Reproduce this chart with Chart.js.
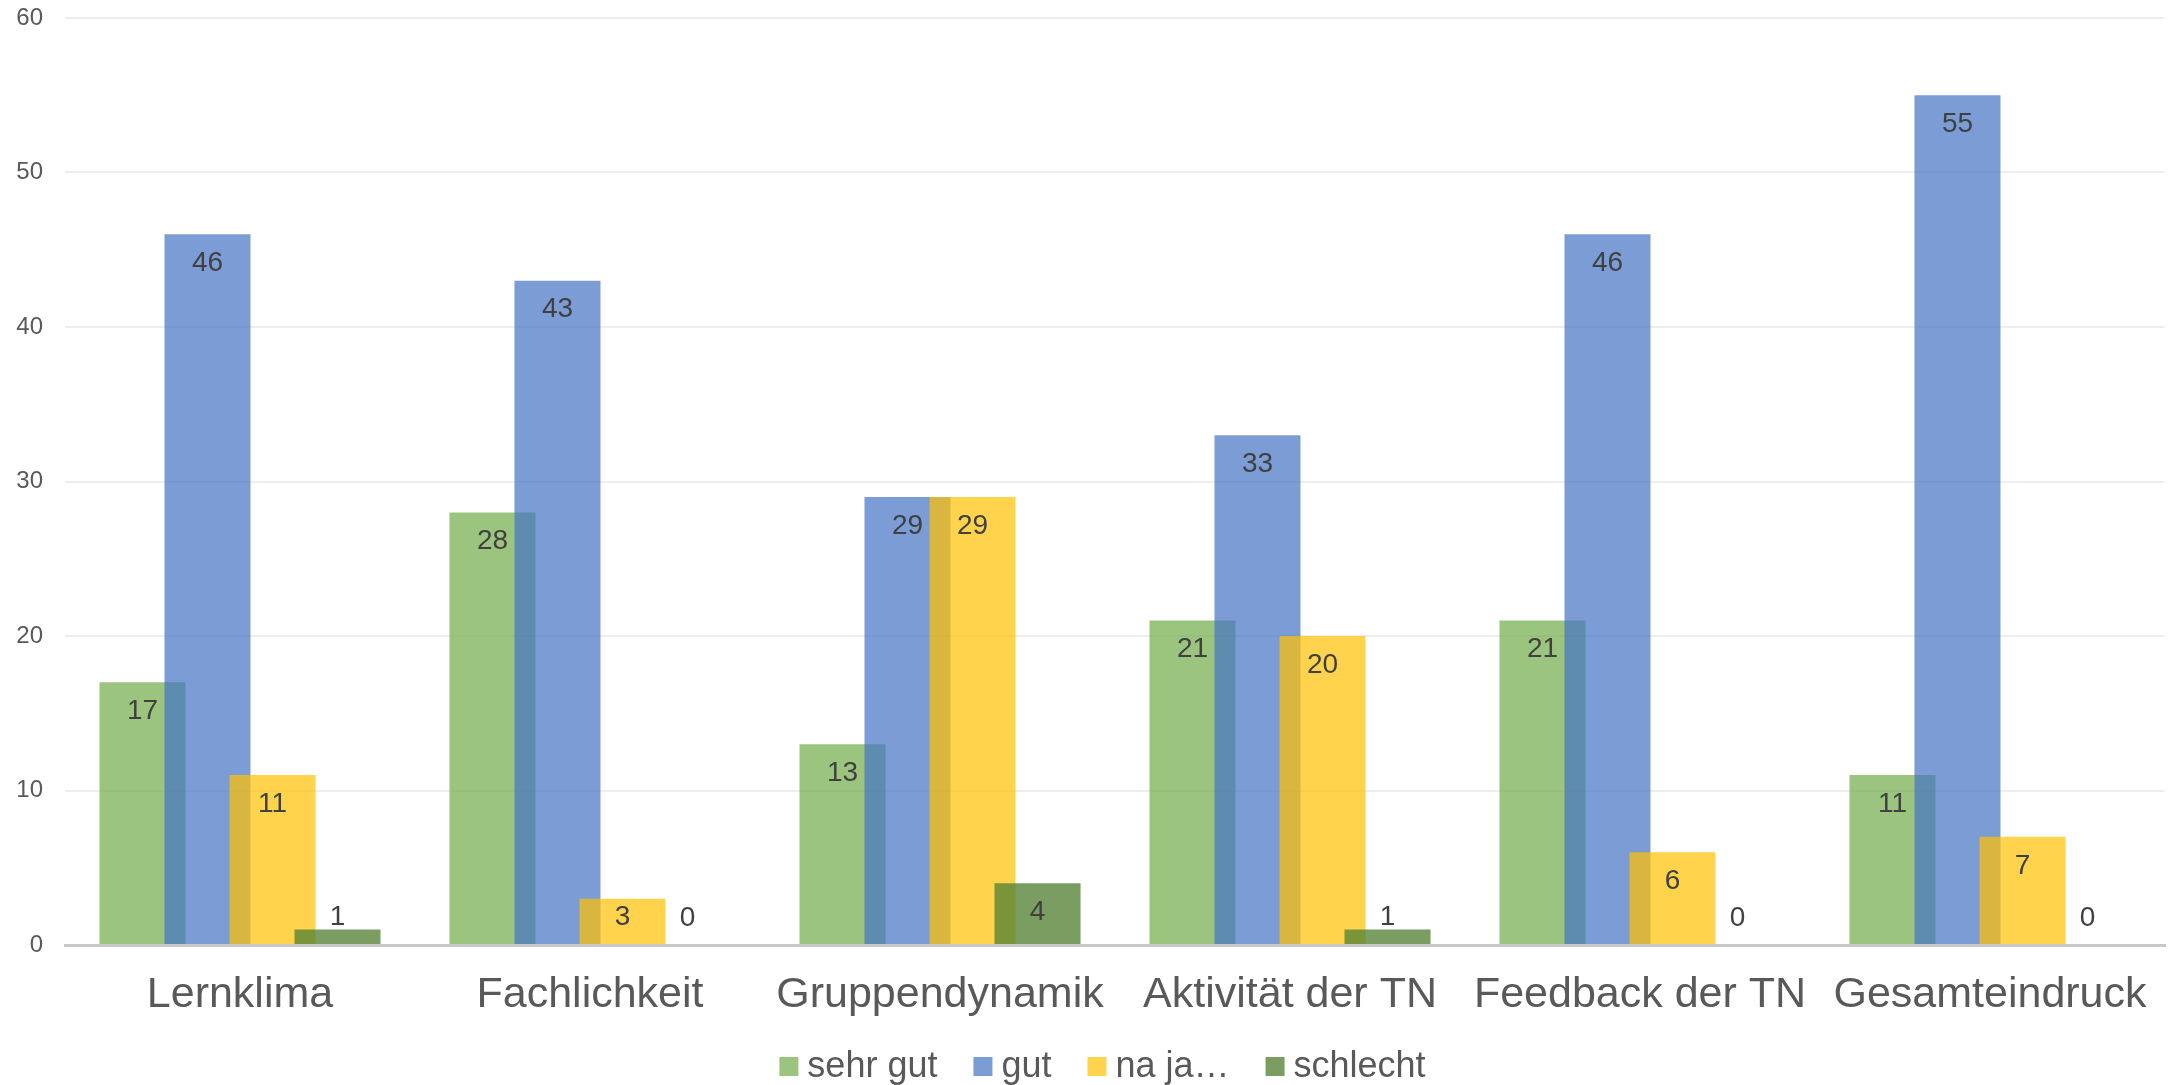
<!DOCTYPE html>
<html>
<head>
<meta charset="utf-8">
<script src="https://cdn.jsdelivr.net/npm/chart.js@4.4.1/dist/chart.umd.min.js"></script>
<style>
  html, body { margin: 0; padding: 0; background: #ffffff; overflow: hidden; }
  #wrap { width: 2168px; height: 1085px; }
</style>
</head>
<body>
<div id="wrap"><canvas id="c" width="2168" height="1085"></canvas></div>
<script>
const categories = ['Lernklima', 'Fachlichkeit', 'Gruppendynamik', 'Aktivität der TN', 'Feedback der TN', 'Gesamteindruck'];
const seriesNames = ['sehr gut', 'gut', 'na ja…', 'schlecht'];
const sehrGut = [17, 28, 13, 21, 21, 11];
const gut = [46, 43, 29, 33, 46, 55];
const naJa = [11, 3, 29, 20, 6, 7];
const schlecht = [1, 0, 4, 1, 0, 0];
const yTicks = [0, 10, 20, 30, 40, 50, 60];

const seriesValues = [sehrGut, gut, naJa, schlecht];
const colors = ['rgba(112,173,71,0.7)', 'rgba(68,114,196,0.7)', 'rgba(255,192,0,0.7)', 'rgba(84,130,53,0.78)'];
const FONT = '"Liberation Sans", Arial, Helvetica, sans-serif';

function noAutoPad(s) {
  s.paddingLeft = 0; s.paddingRight = 0; s.paddingTop = 0; s.paddingBottom = 0;
}

const forwardDraw = {
  id: 'forwardDraw',
  // draw datasets in forward order (later series on top) + value labels
  beforeDatasetsDraw(chart) {
    const metas = chart.getSortedVisibleDatasetMetas();
    metas.forEach(m => m.controller.draw());
    const ctx = chart.ctx;
    ctx.save();
    ctx.font = '28px ' + FONT;
    ctx.fillStyle = '#404040';
    ctx.textAlign = 'center';
    ctx.textBaseline = 'middle';
    metas.forEach(m => {
      const data = chart.data.datasets[m.index].data;
      m.data.forEach((el, i) => {
        const y = Math.min(el.y + 29, el.base - 27);
        ctx.fillText(String(data[i]), el.x, y);
      });
    });
    ctx.restore();
    return false;
  },
  // legend row at the bottom edge of the canvas
  afterDraw(chart) {
    const ctx = chart.ctx;
    ctx.save();
    ctx.font = '36px ' + FONT;
    ctx.textAlign = 'left';
    ctx.textBaseline = 'alphabetic';
    const box = 19, gapBox = 9, gapItem = 36;
    const widths = seriesNames.map(n => ctx.measureText(n).width);
    const total = widths.reduce((a, w) => a + box + gapBox + w, 0) + gapItem * (seriesNames.length - 1);
    let x = 1102.5 - total / 2;
    const boxTop = chart.height - 28;
    const baseline = chart.height - 8;
    seriesNames.forEach((name, k) => {
      ctx.fillStyle = colors[k];
      ctx.fillRect(x, boxTop, box, box);
      ctx.fillStyle = '#595959';
      ctx.fillText(name, x + box + gapBox, baseline);
      x += box + gapBox + widths[k] + gapItem;
    });
    ctx.restore();
  }
};

new Chart(document.getElementById('c'), {
  type: 'bar',
  data: {
    labels: categories,
    datasets: seriesNames.map((name, k) => ({
      label: name,
      data: seriesValues[k],
      backgroundColor: colors[k],
      borderWidth: 0,
      categoryPercentage: 0.743,
      barPercentage: 1.323
    }))
  },
  options: {
    responsive: false,
    animation: false,
    devicePixelRatio: 1,
    layout: { padding: { left: 16.3, right: 3, top: 18, bottom: 64.4 } },
    plugins: {
      tooltip: { enabled: false },
      legend: { display: false }
    },
    scales: {
      x: {
        z: 1,
        grid: { display: false, drawTicks: false },
        border: { display: true, color: '#c8c8c8', width: 3 },
        ticks: { font: { family: FONT, size: 43 }, color: '#595959', padding: 24, autoSkip: false, maxRotation: 0, minRotation: 0 },
        afterFit(s) { noAutoPad(s); s.height = 75.6; }
      },
      y: {
        min: 0,
        max: 60,
        afterBuildTicks(s) { s.ticks = yTicks.map(v => ({ value: v })); },
        grid: { color: '#eeeeee', lineWidth: 2, drawTicks: false },
        border: { display: false },
        ticks: { font: { family: FONT, size: 24 }, color: '#595959', padding: 22 },
        afterFit(s) { noAutoPad(s); s.width = 48.7; }
      }
    }
  },
  plugins: [forwardDraw]
});
</script>
</body>
</html>
